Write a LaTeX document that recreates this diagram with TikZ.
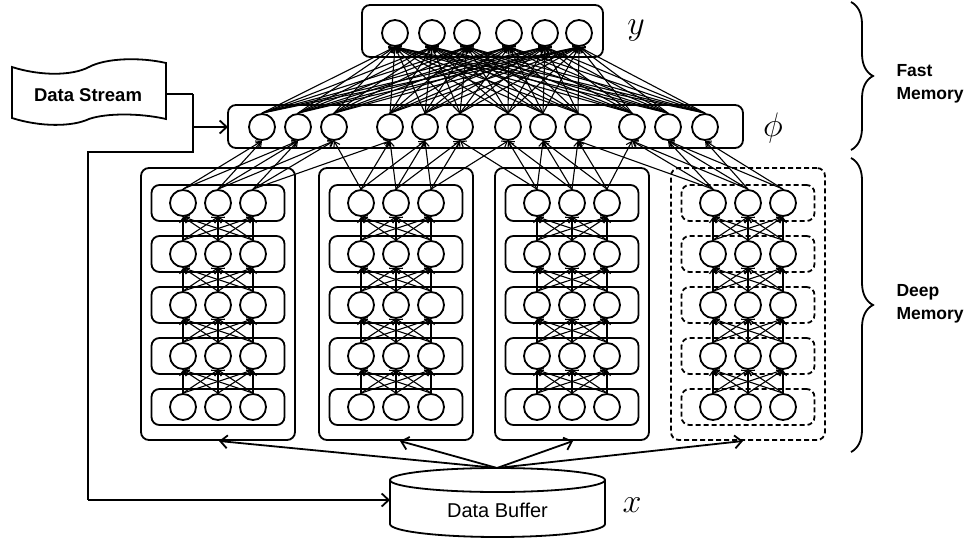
\documentclass[tikz,border=0pt]{standalone}
\usepackage{fix-cm}
\usepackage{fontspec}
\setmainfont{Liberation Sans}
\usetikzlibrary{arrows.meta,decorations.pathreplacing}
\begin{document}
\begin{tikzpicture}[x=1pt,y=-1pt,
 neuron/.style={circle,draw,line width=1.8pt,minimum size=26pt,inner sep=0pt},
 layerbox/.style={draw,line width=1.8pt,rounded corners=8pt,inner sep=0pt},
 dashbox/.style={layerbox,dash pattern=on 5pt off 3pt},
 conn/.style={line width=1.1pt,-{Straight Barb[length=5pt,width=7pt]}},
 bigarrow/.style={line width=1.8pt,-{Straight Barb[length=7pt,width=13pt]}},
 wire/.style={line width=1.8pt},
 lbl/.style={font=\fontsize{17.5}{22.5}\selectfont\bfseries,align=left,anchor=west},
 mathlbl/.style={font=\fontsize{34}{34}\selectfont}]
\useasboundingbox (0,0) rectangle (971,543);

% output layer y
\node[layerbox,minimum width=241pt,minimum height=52pt] (ybox) at (482.5,31) {};
\foreach \x [count=\i] in {395,432,467,509,545,579}
  \node[neuron] (y\i) at (\x,33) {};
% phi layer
\node[layerbox,minimum width=515pt,minimum height=43pt] (phibox) at (485.5,126.5) {};
\foreach \x [count=\i] in {262,298,334,390,425,460,508,543,578,632,668,705}
  \node[neuron] (p\i) at (\x,127) {};

% deep columns
\foreach \b [count=\c] in {183,361,537,713} {
  \ifnum\c=4 \tikzset{bx/.style={dashbox}}\else\tikzset{bx/.style={layerbox}}\fi
  \node[bx,minimum width=154pt,minimum height=272pt] (col\c) at (\b+35,304) {};
  \foreach \r [count=\rr] in {203,254,305,356,407} {
    \node[bx,minimum width=133pt,minimum height=36pt] (row\c-\rr) at (\b+35,\r) {};
    \foreach \i in {1,2,3}
      \node[neuron] (n\c-\rr-\i) at (\b+35*\i-35,\r) {};
  }
  \foreach \rr in {1,2,3,4} {
    \pgfmathtruncatemacro\lo{\rr+1}
    \foreach \i in {1,2,3} \foreach \j in {1,2,3}
      \draw[conn] (n\c-\lo-\i.north) -- (n\c-\rr-\j.south);
  }
}

% deep memory -> phi
\foreach \c in {1,...,4} \foreach \i in {1,2,3} {
  \pgfmathtruncatemacro\k{3*(\c-1)+\i}
  \foreach \d in {-1,0,1} {
    \pgfmathtruncatemacro\m{\k+\d}
    \ifnum\m>0 \ifnum\m<13 \draw[conn] (n\c-1-\i.north) -- (p\m.south); \fi\fi
  }
}
% phi -> y
\foreach \m in {1,...,12} \foreach \j in {1,...,6}
  \draw[conn] (p\m.north) -- (y\j.south);

% Data Stream
\draw[wire] (12,67) .. controls (40,76) and (72,76) .. (89,67) .. controls (106,58) and (140,57) .. (166,63)
  -- (166,119) .. controls (140,113) and (106,113) .. (89,119) .. controls (72,127) and (40,127) .. (12,118) -- cycle;
\node[font=\fontsize{18.5}{18.5}\selectfont\bfseries] (ds) at (88,95) {Data Stream};

% Data Buffer
\draw[wire] (390,480) -- (390,524) arc[start angle=180,end angle=0,x radius=107.5,y radius=13] -- (605,480);
\draw[wire] (497.5,480) ellipse[x radius=107.5,y radius=12];
\node[font=\fontsize{20}{20}\selectfont] (buf) at (497.5,510) {Data Buffer};

% wiring
\coordinate (dsout) at (166,94);
\coordinate (j1) at (193,94);
\coordinate (j2) at (193,127);
\coordinate (j3) at (193,152);
\coordinate (j4) at (88,152);
\coordinate (j5) at (88,500);
\coordinate (bufW) at (390,500);
\coordinate (phiW) at (228,127);
\draw[wire] (dsout) -- (j1);
\draw[line width=2.8pt] (j1) -- (j2);
\draw[bigarrow] (j2) -- (phiW);
\draw[wire] (j2) -- (j3) -- (j4) -- (j5);
\draw[bigarrow] (j5) -- (bufW);

\coordinate (buftop) at (497,468);
\coordinate (t1) at (219,441);
\coordinate (t2) at (400,441);
\coordinate (t3) at (573,441);
\coordinate (t4) at (743,441);
\foreach \t in {t1,t2,t3,t4} \draw[bigarrow] (buftop) -- (\t);

% math labels
\node[mathlbl] (ylab) at (636,30) {$y$};
\node[mathlbl] (philab) at (773,128) {$\phi$};
\node[mathlbl] (xlab) at (632,505) {$x$};

% braces
\draw[wire,decorate,decoration={brace,amplitude=22pt}] (851,2) -- (851,150);
\draw[wire,decorate,decoration={brace,amplitude=22pt}] (851,158) -- (851,452);
\node[lbl] (fm) at (893,84) {Fast\\Memory};
\node[lbl] (dm) at (893,304) {Deep\\Memory};
\end{tikzpicture}
\end{document}
